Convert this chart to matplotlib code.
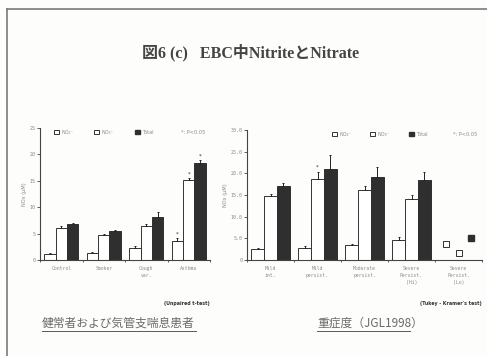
import matplotlib
matplotlib.use("Agg")
import matplotlib.pyplot as plt
from matplotlib.patches import Patch
from matplotlib.lines import Line2D
import numpy as np

# ---- data ----
left_groups = ["Control", "Smoker", "Cough\nvar.", "Asthma"]
left_no2 = [1.1, 1.25, 2.3, 3.6]
left_no3 = [6.1, 4.7, 6.4, 15.1]
left_total = [6.75, 5.4, 8.1, 18.4]
left_no2_err = [0.15, 0.2, 0.3, 0.5]
left_no3_err = [0.3, 0.3, 0.4, 0.4]
left_total_err = [0.35, 0.3, 0.9, 0.6]

right_groups = ["Mild\nint.", "Mild\npersist.", "Moderate\npersist.",
                "Severe\nPersist.\n(Hi)", "Severe\nPersist.\n(Lo)"]
right_no2 = [2.5, 2.7, 3.5, 4.7]
right_no3 = [14.8, 18.8, 16.1, 14.0]
right_total = [17.0, 21.1, 19.1, 18.4]
right_no2_err = [0.3, 0.5, 0.3, 0.5]
right_no3_err = [0.5, 1.6, 1.0, 1.0]
right_total_err = [0.7, 3.1, 2.3, 2.0]
# last severity group: single subjects, drawn as points
single_no2, single_no3, single_total = 3.6, 1.6, 5.0

left_yticks = [0, 5, 10, 15, 20, 25]
right_yticks = [0, 5, 10, 15, 20, 25, 30]

W, H = 487, 356
fig = plt.figure(figsize=(W / 100, H / 100), dpi=100)
fig.patch.set_facecolor("#fdfdfb")

dark = "#2f2f2f"
grey_txt = "#8a8a8a"
bw = 0.27


def panel(ax, groups, no2, no3, tot, e2, e3, et, yticks, ticklab, ylim,
          colsp):
    x = np.arange(len(no2))
    ekw = dict(elinewidth=0.7, capsize=1.0, capthick=0.7, ecolor="#222222")
    ax.bar(x - bw, no2, bw, color="white", edgecolor="#333333", linewidth=0.7,
           yerr=[np.zeros(len(e2)), e2], error_kw=ekw)
    ax.bar(x, no3, bw, color="white", edgecolor="#333333", linewidth=0.7,
           yerr=[np.zeros(len(e3)), e3], error_kw=ekw)
    ax.bar(x + bw, tot, bw, color=dark, edgecolor=dark, linewidth=0.7,
           yerr=[np.zeros(len(et)), et], error_kw=ekw)
    ax.set_xlim(-0.5, len(groups) - 0.5)
    ax.set_ylim(*ylim)
    ax.set_yticks(yticks)
    ax.set_yticklabels(ticklab, fontsize=3.6, color=grey_txt,
                       family="DejaVu Sans Mono")
    ax.set_xticks(np.arange(len(groups) + 1) - 0.5, minor=False)
    ax.set_xticklabels([])
    ax.tick_params(axis="x", length=1.5, width=0.6, color="#444444")
    ax.tick_params(axis="y", length=2, width=0.6, color="#444444", pad=1)
    for i, g in enumerate(groups):
        ax.text(i, -0.045, g, transform=ax.get_xaxis_transform(),
                ha="center", va="top", fontsize=3.4, color=grey_txt,
                family="DejaVu Sans Mono", linespacing=1.5)
    for s in ("top", "right"):
        ax.spines[s].set_visible(False)
    for s in ("left", "bottom"):
        ax.spines[s].set_color("#444444")
        ax.spines[s].set_linewidth(0.8)
    ax.set_facecolor("none")
    ax.set_ylabel("NOx (\u03bcM)", fontsize=3.6, color=grey_txt, labelpad=2)
    handles = [Patch(facecolor="white", edgecolor="#333333", linewidth=0.7),
               Patch(facecolor="white", edgecolor="#333333", linewidth=0.7),
               Patch(facecolor=dark, edgecolor=dark),
               Line2D([], [], linestyle="none")]
    labels = ["NO\u2082\u207b", "NO\u2083\u207b", "Total", "*: P<0.05"]
    leg = ax.legend(handles, labels, ncol=4, loc="upper right",
                    bbox_to_anchor=(1.0, 1.02), frameon=False, fontsize=3.6,
                    handlelength=1.0, handleheight=1.0, handletextpad=0.4,
                    columnspacing=colsp)
    for t in leg.get_texts():
        t.set_color(grey_txt)
    return x


# left panel: healthy subjects vs asthma
axL = fig.add_axes([40 / W, 1 - 260 / H, 170 / W, 132 / H])
xl = panel(axL, left_groups, left_no2, left_no3, left_total,
           left_no2_err, left_no3_err, left_total_err,
           left_yticks, ["0", "5", "10", "15", "20", "25"], (0, 25), 4.2)
for dx, v, e in [(-bw, left_no2[3], left_no2_err[3]),
                 (0, left_no3[3], left_no3_err[3]),
                 (bw, left_total[3], left_total_err[3])]:
    axL.text(3 + dx, v + e + 0.3, "*", ha="center", va="bottom",
             fontsize=4, color="#333333")

# right panel: by severity
axR = fig.add_axes([247 / W, 1 - 260 / H, 235 / W, 130 / H])
xr = panel(axR, right_groups, right_no2, right_no3, right_total,
           right_no2_err, right_no3_err, right_total_err,
           right_yticks, ["0", "5.0", "10.0", "15.0", "20.0", "25.0", "30.0"],
           (0, 30), 3.8)
axR.plot([4 - bw], [single_no2], marker="s", ms=4, mfc="white", mec="#333333",
         mew=0.7, ls="none")
axR.plot([4], [single_no3], marker="s", ms=4, mfc="white", mec="#333333",
         mew=0.7, ls="none")
axR.plot([4 + bw], [single_total], marker="s", ms=4, mfc=dark, mec=dark,
         ls="none")
axR.text(1, right_no3[1] + right_no3_err[1] + 0.4, "*", ha="center",
         va="bottom", fontsize=4, color="#333333")

# test names under each panel
fig.text(210 / W, 1 - 303 / H, "(Unpaired t-test)", ha="right", va="center",
         fontsize=3.4, color="#333333", weight="bold")
fig.text(482 / W, 1 - 303 / H, "(Tukey - Kramer's test)", ha="right",
         va="center", fontsize=3.4, color="#333333", weight="bold")

# title
fig.text(251 / W, 1 - 53 / H, "図6 (c)   EBC中NitriteとNitrate",
         ha="center", va="center", fontsize=11.5, color="#444444",
         weight="bold", family=["Liberation Serif", "Noto Sans CJK JP"])

# underlined captions
cap_kw = dict(va="center", fontsize=8.5, color="#6a6a6a",
              family=["Noto Sans CJK JP", "DejaVu Sans"])
fig.text(42 / W, 1 - 323 / H, "健常者および気管支喘息患者", ha="left", **cap_kw)
fig.text(317 / W, 1 - 323 / H, "重症度（JGL1998）", ha="left", **cap_kw)
fig.add_artist(Line2D([42 / W, 196 / W], [1 - 331 / H] * 2,
                      color="#5a5a5a", lw=0.7))
fig.add_artist(Line2D([317 / W, 410 / W], [1 - 331 / H] * 2,
                      color="#5a5a5a", lw=0.7))

# slide frame
fig.add_artist(Line2D([7 / W, 1.0], [1 - 9 / H] * 2, color="#7a7a7a", lw=1.2))
fig.add_artist(Line2D([7 / W, 7 / W], [1 - 9 / H, 0.0], color="#7a7a7a", lw=1.2))

fig.savefig("out.png", dpi=100, facecolor=fig.get_facecolor())
